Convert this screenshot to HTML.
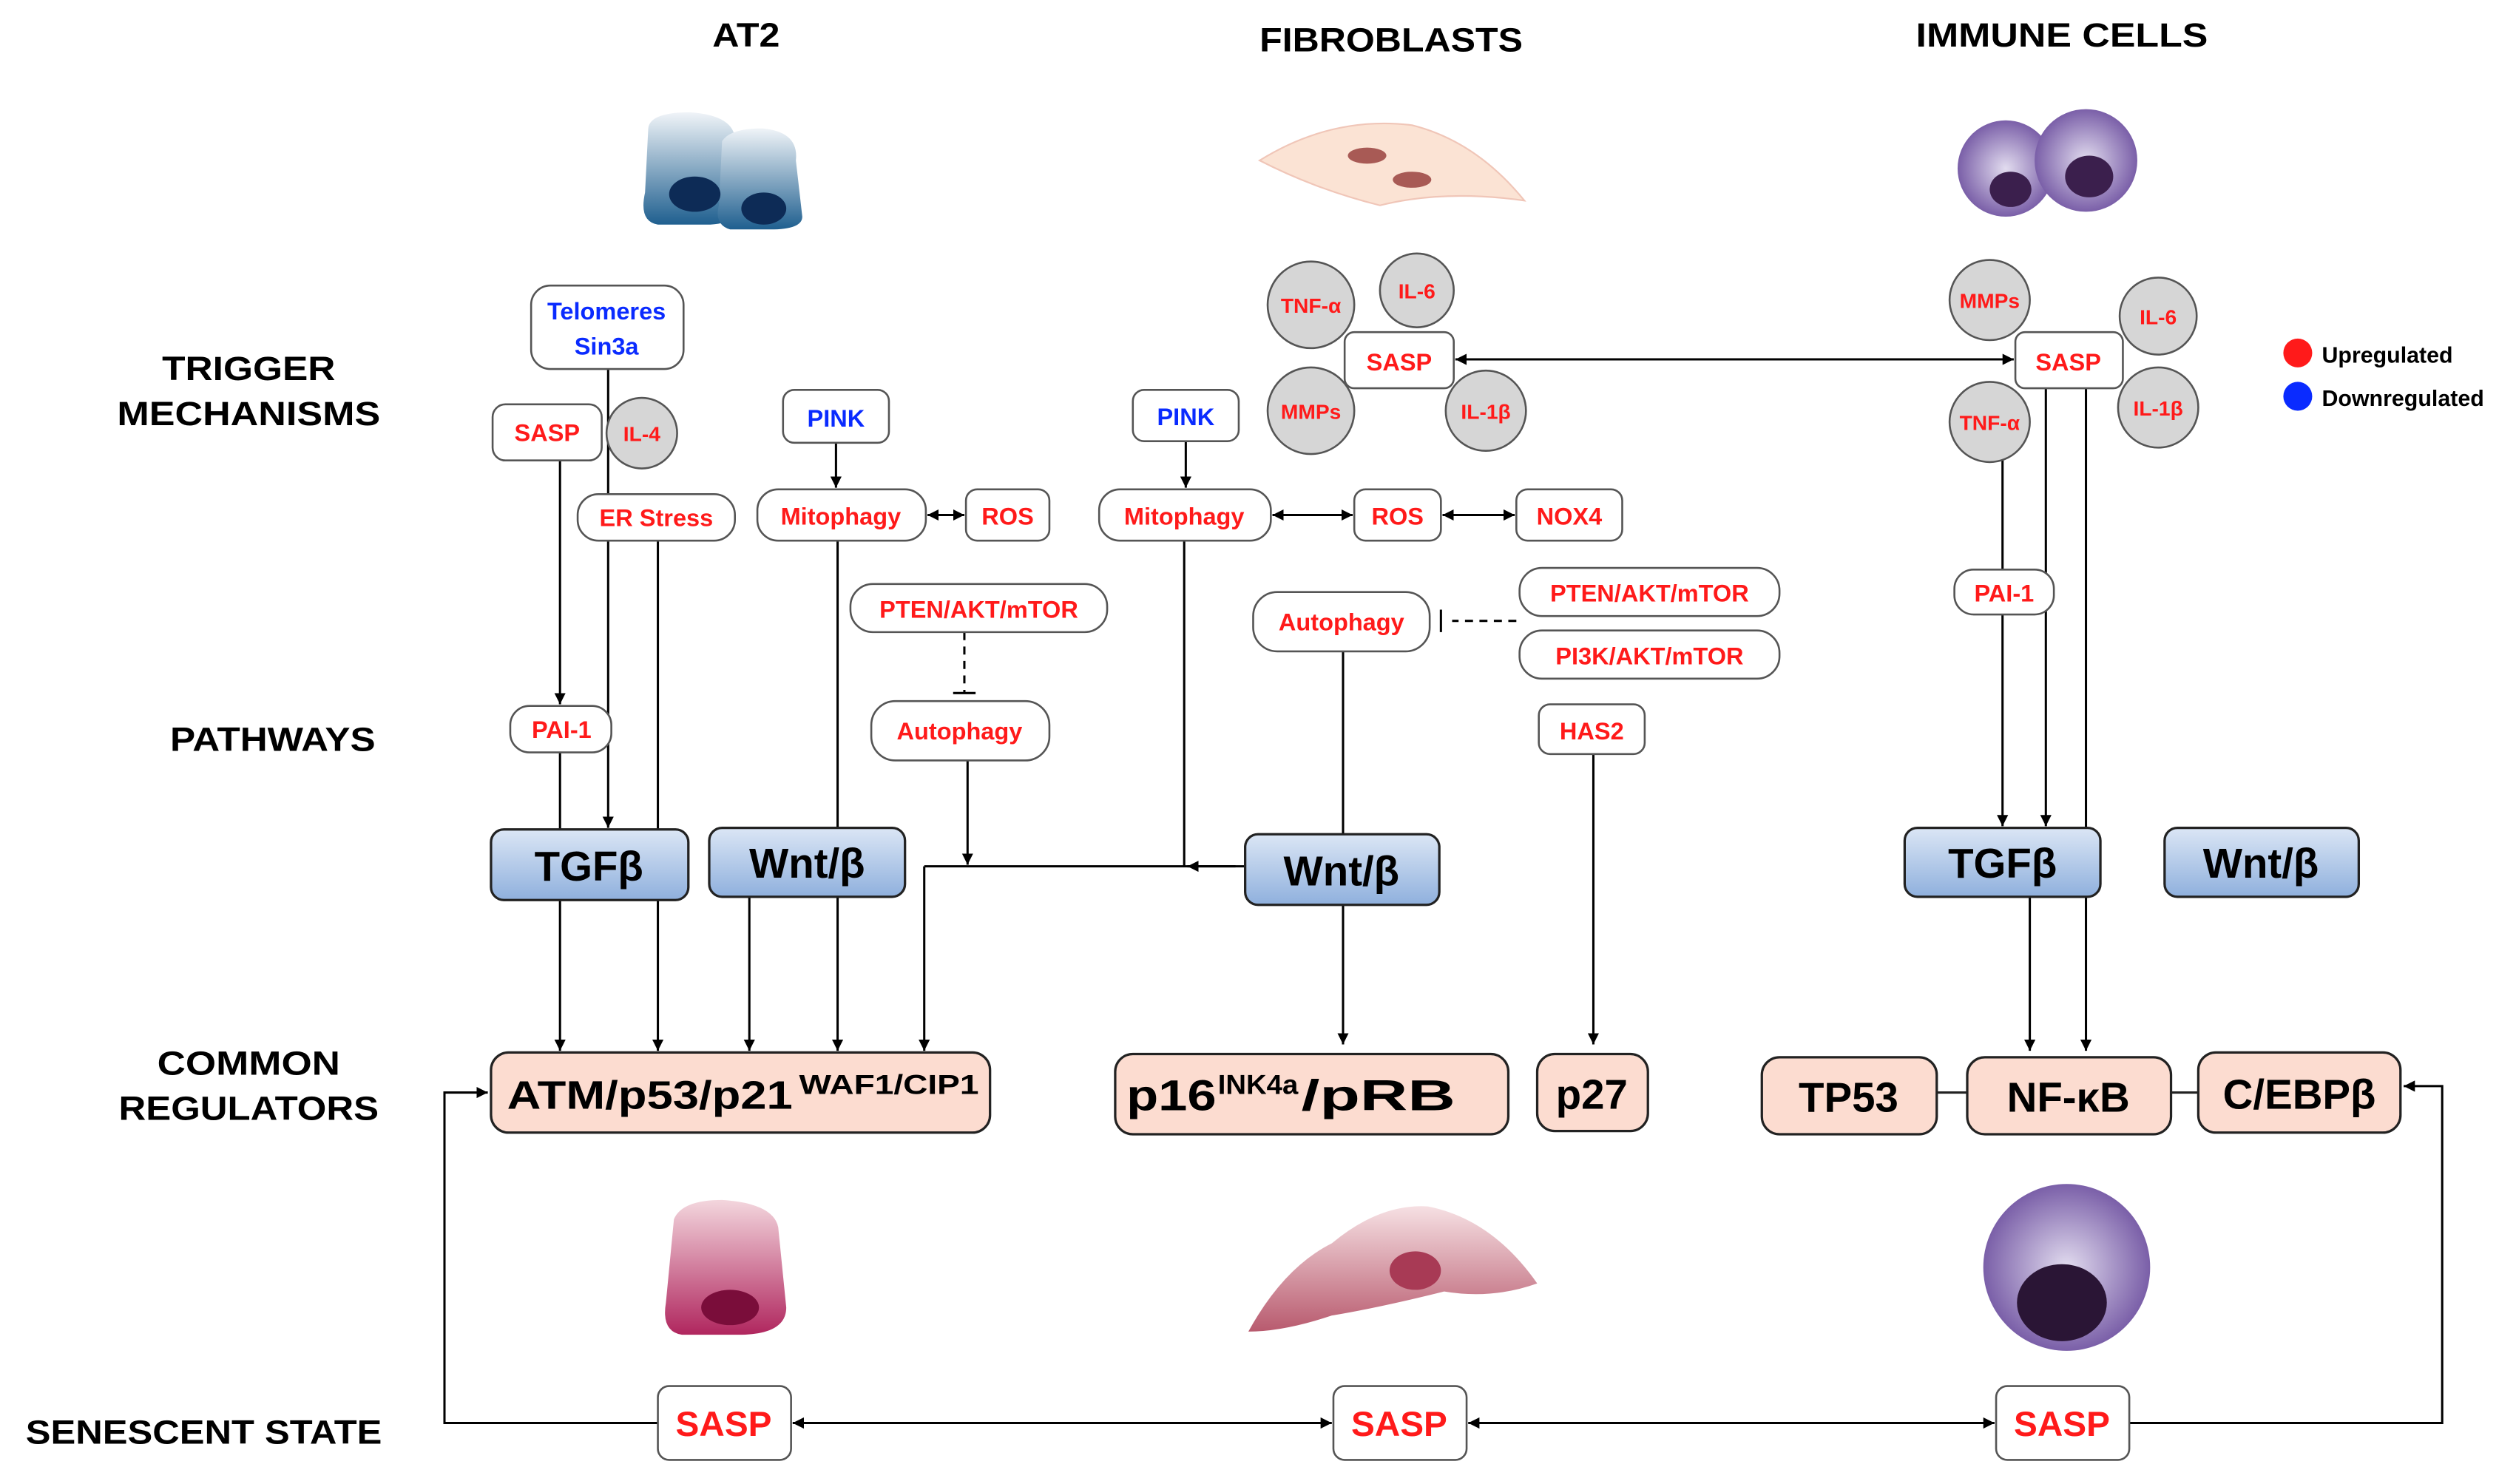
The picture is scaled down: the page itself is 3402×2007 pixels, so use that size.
<!DOCTYPE html>
<html><head><meta charset="utf-8"><style>
html,body{margin:0;padding:0;background:#fff}
svg{display:block}
text{font-family:"Liberation Sans",Arial,sans-serif;font-weight:bold}
</style></head><body>
<svg width="3402" height="2007" viewBox="0 0 1568 925" xmlns="http://www.w3.org/2000/svg">
<defs>
<marker id="a" viewBox="0 0 10 10" refX="10" refY="5" markerWidth="5" markerHeight="5" orient="auto-start-reverse"><path d="M0,0L10,5L0,10z" fill="#000"/></marker>
<linearGradient id="bl" x1="0" y1="0" x2="0" y2="1"><stop offset="0" stop-color="#dbe6f5"/><stop offset="1" stop-color="#8fb0dd"/></linearGradient>
<linearGradient id="at" x1="0" y1="0" x2="0" y2="1"><stop offset="0" stop-color="#f0f4f8"/><stop offset="1" stop-color="#1f5f8f"/></linearGradient>
<linearGradient id="pk" x1="0" y1="0" x2="0" y2="1"><stop offset="0" stop-color="#f3d6dd"/><stop offset="1" stop-color="#b0265e"/></linearGradient>
<linearGradient id="fb" x1="0" y1="0" x2="0" y2="1"><stop offset="0" stop-color="#f6e0e3"/><stop offset="1" stop-color="#b85a6e"/></linearGradient>
<radialGradient id="im"><stop offset="0" stop-color="#e2dcef"/><stop offset="1" stop-color="#7a5fa8"/></radialGradient>
</defs>
<style>
.t{fill:#000;font-size:21px;text-anchor:middle}
.r{fill:#ff1a1a;font-size:15px;text-anchor:middle}
.b{fill:#0a2bff;font-size:15px;text-anchor:middle}
.n{fill:#fff;stroke:#555;stroke-width:1.2}
.c{fill:#d6d6d6;stroke:#555;stroke-width:1.2}
.g{fill:url(#bl);stroke:#222;stroke-width:1.5}
.p{fill:#fcdcd0;stroke:#222;stroke-width:1.5}
.l{stroke:#000;stroke-width:1.4;fill:none}
.k{fill:#000;font-size:26px;text-anchor:middle}
</style>
<!-- headers -->
<text class="t" x="465" y="29" textLength="42" lengthAdjust="spacingAndGlyphs">AT2</text>
<text class="t" x="867" y="32" textLength="164" lengthAdjust="spacingAndGlyphs">FIBROBLASTS</text>
<text class="t" x="1285" y="29" textLength="182" lengthAdjust="spacingAndGlyphs">IMMUNE CELLS</text>
<text class="t" x="155" y="237" textLength="108" lengthAdjust="spacingAndGlyphs">TRIGGER</text>
<text class="t" x="155" y="265" textLength="164" lengthAdjust="spacingAndGlyphs">MECHANISMS</text>
<text class="t" x="170" y="468" textLength="128" lengthAdjust="spacingAndGlyphs">PATHWAYS</text>
<text class="t" x="155" y="670" textLength="114" lengthAdjust="spacingAndGlyphs">COMMON</text>
<text class="t" x="155" y="698" textLength="162" lengthAdjust="spacingAndGlyphs">REGULATORS</text>
<text class="t" x="127" y="900" textLength="222" lengthAdjust="spacingAndGlyphs">SENESCENT STATE</text>
<!-- cell images -->
<path d="M404,80 Q405,70 430,70 Q460,72 458,90 L462,120 Q465,140 440,140 L410,140 Q398,138 402,120z" fill="url(#at)"/>
<path d="M450,88 Q455,80 475,80 Q498,82 496,100 L500,135 Q500,143 480,143 L455,143 Q445,140 448,128z" fill="url(#at)"/>
<ellipse cx="433" cy="121" rx="16" ry="11" fill="#0d2b56"/><ellipse cx="476" cy="130" rx="14" ry="10" fill="#0d2b56"/>
<path d="M785,100 Q830,72 880,78 Q920,88 950,125 Q900,118 860,128 Q820,118 785,100z" fill="#fbe3d4" stroke="#f0c6b8"/>
<ellipse cx="852" cy="97" rx="12" ry="5" fill="#a85a55"/><ellipse cx="880" cy="112" rx="12" ry="5" fill="#a85a55"/>
<circle cx="1250" cy="105" r="30" fill="url(#im)"/><circle cx="1300" cy="100" r="32" fill="url(#im)"/>
<ellipse cx="1253" cy="118" rx="13" ry="11" fill="#3b1f4d"/><ellipse cx="1302" cy="110" rx="15" ry="13" fill="#3b1f4d"/>
<path d="M420,760 Q425,748 450,748 Q482,750 485,765 L490,815 Q490,832 460,832 L425,832 Q412,830 415,812z" fill="url(#pk)"/>
<ellipse cx="455" cy="815" rx="18" ry="11" fill="#7a0d3a"/>
<path d="M778,830 Q800,790 830,775 Q860,750 890,752 Q930,760 958,800 Q930,810 900,805 Q860,815 830,820 Q800,830 778,830z" fill="url(#fb)"/>
<ellipse cx="882" cy="792" rx="16" ry="12" fill="#a83a55"/>
<circle cx="1288" cy="790" r="52" fill="url(#im)"/>
<ellipse cx="1285" cy="812" rx="28" ry="24" fill="#2a1535"/>
<!-- legend -->
<circle cx="1432" cy="220" r="9" fill="#ff1a1a"/><text x="1447" y="226" style="font-size:14px">Upregulated</text>
<circle cx="1432" cy="247" r="9" fill="#0a2bff"/><text x="1447" y="253" style="font-size:14px">Downregulated</text>
<!-- AT2 connectors -->
<line class="l" x1="379" y1="230" x2="379" y2="516" marker-end="url(#a)"/>
<line class="l" x1="349" y1="287" x2="349" y2="439" marker-end="url(#a)"/>
<line class="l" x1="349" y1="469" x2="349" y2="517"/>
<line class="l" x1="410" y1="337" x2="410" y2="655" marker-end="url(#a)"/>
<line class="l" x1="349" y1="561" x2="349" y2="655" marker-end="url(#a)"/>
<line class="l" x1="467" y1="559" x2="467" y2="655" marker-end="url(#a)"/>
<line class="l" x1="522" y1="337" x2="522" y2="516"/>
<line class="l" x1="522" y1="559" x2="522" y2="655" marker-end="url(#a)"/>
<line class="l" x1="521" y1="276" x2="521" y2="304" marker-end="url(#a)"/>
<line class="l" x1="578" y1="321" x2="601" y2="321" marker-start="url(#a)" marker-end="url(#a)"/>
<line class="l" x1="601" y1="394" x2="601" y2="432" stroke-dasharray="5,4"/><line class="l" x1="594" y1="432" x2="608" y2="432"/>
<line class="l" x1="603" y1="474" x2="603" y2="539" marker-end="url(#a)"/>
<line class="l" x1="576" y1="540" x2="776" y2="540"/>
<line class="l" x1="770" y1="540" x2="740" y2="540" marker-end="url(#a)"/>
<line class="l" x1="576" y1="540" x2="576" y2="655" marker-end="url(#a)"/>
<line class="l" x1="738" y1="337" x2="738" y2="540"/>
<!-- fibro -->
<line class="l" x1="739" y1="275" x2="739" y2="304" marker-end="url(#a)"/>
<line class="l" x1="793" y1="321" x2="843" y2="321" marker-start="url(#a)" marker-end="url(#a)"/>
<line class="l" x1="899" y1="321" x2="944" y2="321" marker-start="url(#a)" marker-end="url(#a)"/>
<line class="l" x1="945" y1="387" x2="905" y2="387" stroke-dasharray="5,4"/><line class="l" x1="898" y1="380" x2="898" y2="394" stroke-width="2"/>
<line class="l" x1="837" y1="406" x2="837" y2="520"/>
<line class="l" x1="837" y1="564" x2="837" y2="651" marker-end="url(#a)"/>
<line class="l" x1="993" y1="470" x2="993" y2="651" marker-end="url(#a)"/>
<line class="l" x1="907" y1="224" x2="1255" y2="224" marker-start="url(#a)" marker-end="url(#a)"/>
<!-- immune -->
<line class="l" x1="1248" y1="242" x2="1248" y2="355"/>
<line class="l" x1="1248" y1="383" x2="1248" y2="515" marker-end="url(#a)"/>
<line class="l" x1="1275" y1="242" x2="1275" y2="515" marker-end="url(#a)"/>
<line class="l" x1="1300" y1="242" x2="1300" y2="655" marker-end="url(#a)"/>
<line class="l" x1="1265" y1="559" x2="1265" y2="655" marker-end="url(#a)"/>
<line x1="1207" y1="681" x2="1226" y2="681" stroke="#222" stroke-width="1.4"/>
<line x1="1353" y1="681" x2="1370" y2="681" stroke="#222" stroke-width="1.4"/>
<!-- bottom loop -->
<polyline class="l" points="410,887 277,887 277,681 304,681" marker-end="url(#a)"/>
<polyline class="l" points="1327,887 1522,887 1522,677 1498,677" marker-end="url(#a)"/>
<line class="l" x1="494" y1="887" x2="830" y2="887" marker-start="url(#a)" marker-end="url(#a)"/>
<line class="l" x1="915" y1="887" x2="1243" y2="887" marker-start="url(#a)" marker-end="url(#a)"/>
<!-- AT2 nodes -->
<rect class="n" x="331" y="178" width="95" height="52" rx="12"/><text class="b" x="378" y="199">Telomeres</text><text class="b" x="378" y="221">Sin3a</text>
<rect class="n" x="307" y="252" width="68" height="35" rx="8"/><text class="r" x="341" y="275">SASP</text>
<circle class="c" cx="400" cy="270" r="22"/><text class="r" x="400" y="275" style="font-size:13px">IL-4</text>
<rect class="n" x="360" y="308" width="98" height="29" rx="13"/><text class="r" x="409" y="328">ER Stress</text>
<rect class="n" x="488" y="243" width="66" height="33" rx="7"/><text class="b" x="521" y="266">PINK</text>
<rect class="n" x="472" y="305" width="105" height="32" rx="13"/><text class="r" x="524" y="327">Mitophagy</text>
<rect class="n" x="602" y="305" width="52" height="32" rx="7"/><text class="r" x="628" y="327">ROS</text>
<rect class="n" x="530" y="364" width="160" height="30" rx="14"/><text class="r" x="610" y="385">PTEN/AKT/mTOR</text>
<rect class="n" x="543" y="437" width="111" height="37" rx="15"/><text class="r" x="598" y="461">Autophagy</text>
<rect class="n" x="318" y="440" width="63" height="29" rx="12"/><text class="r" x="350" y="460">PAI-1</text>
<rect class="g" x="306" y="517" width="123" height="44" rx="8"/><text class="k" x="367" y="549">TGFβ</text>
<rect class="g" x="442" y="516" width="122" height="43" rx="8"/><text class="k" x="503" y="547">Wnt/β</text>
<rect class="p" x="306" y="656" width="311" height="50" rx="11"/>
<text x="316" y="691" style="font-size:25px;fill:#000" textLength="178" lengthAdjust="spacingAndGlyphs">ATM/p53/p21</text>
<text x="498" y="682" style="font-size:17px;fill:#000" textLength="112" lengthAdjust="spacingAndGlyphs">WAF1/CIP1</text>
<!-- fibro nodes -->
<rect class="n" x="706" y="243" width="66" height="32" rx="7"/><text class="b" x="739" y="265">PINK</text>
<rect class="n" x="685" y="305" width="107" height="32" rx="13"/><text class="r" x="738" y="327">Mitophagy</text>
<rect class="n" x="844" y="305" width="54" height="32" rx="7"/><text class="r" x="871" y="327">ROS</text>
<rect class="n" x="945" y="305" width="66" height="32" rx="7"/><text class="r" x="978" y="327">NOX4</text>
<rect class="n" x="781" y="369" width="110" height="37" rx="15"/><text class="r" x="836" y="393">Autophagy</text>
<rect class="n" x="947" y="354" width="162" height="30" rx="14"/><text class="r" x="1028" y="375">PTEN/AKT/mTOR</text>
<rect class="n" x="947" y="393" width="162" height="30" rx="14"/><text class="r" x="1028" y="414">PI3K/AKT/mTOR</text>
<rect class="n" x="959" y="439" width="66" height="31" rx="7"/><text class="r" x="992" y="461">HAS2</text>
<circle class="c" cx="817" cy="190" r="27"/><text class="r" x="817" y="195" style="font-size:13px">TNF-α</text>
<circle class="c" cx="883" cy="181" r="23"/><text class="r" x="883" y="186" style="font-size:13px">IL-6</text>
<circle class="c" cx="817" cy="256" r="27"/><text class="r" x="817" y="261" style="font-size:13px">MMPs</text>
<circle class="c" cx="926" cy="256" r="25"/><text class="r" x="926" y="261" style="font-size:13px">IL-1β</text>
<rect class="n" x="838" y="207" width="68" height="35" rx="6"/><text class="r" x="872" y="231">SASP</text>
<rect class="g" x="776" y="520" width="121" height="44" rx="8"/><text class="k" x="836" y="552">Wnt/β</text>
<rect class="p" x="695" y="657" width="245" height="50" rx="11"/>
<text x="702" y="692" style="font-size:27px;fill:#000" textLength="56" lengthAdjust="spacingAndGlyphs">p16</text>
<text x="759" y="682" style="font-size:17px;fill:#000" textLength="50" lengthAdjust="spacingAndGlyphs">INK4a</text>
<text x="811" y="692" style="font-size:27px;fill:#000" textLength="96" lengthAdjust="spacingAndGlyphs">/pRB</text>
<rect class="p" x="958" y="657" width="69" height="48" rx="11"/><text class="k" x="992" y="691">p27</text>
<!-- immune nodes -->
<circle class="c" cx="1240" cy="187" r="25"/><text class="r" x="1240" y="192" style="font-size:13px">MMPs</text>
<circle class="c" cx="1345" cy="197" r="24"/><text class="r" x="1345" y="202" style="font-size:13px">IL-6</text>
<circle class="c" cx="1240" cy="263" r="25"/><text class="r" x="1240" y="268" style="font-size:13px">TNF-α</text>
<circle class="c" cx="1345" cy="254" r="25"/><text class="r" x="1345" y="259" style="font-size:13px">IL-1β</text>
<rect class="n" x="1256" y="207" width="67" height="35" rx="6"/><text class="r" x="1289" y="231">SASP</text>
<rect class="n" x="1218" y="355" width="62" height="28" rx="12"/><text class="r" x="1249" y="375">PAI-1</text>
<rect class="g" x="1187" y="516" width="122" height="43" rx="8"/><text class="k" x="1248" y="547">TGFβ</text>
<rect class="g" x="1349" y="516" width="121" height="43" rx="8"/><text class="k" x="1409" y="547">Wnt/β</text>
<rect class="p" x="1098" y="659" width="109" height="48" rx="11"/><text class="k" x="1152" y="693">TP53</text>
<rect class="p" x="1226" y="659" width="127" height="48" rx="11"/><text class="k" x="1289" y="693">NF-κB</text>
<rect class="p" x="1370" y="656" width="126" height="50" rx="11"/><text class="k" x="1433" y="691">C/EBPβ</text>
<!-- bottom SASP -->
<rect class="n" x="410" y="864" width="83" height="46" rx="7"/><text class="r" x="451" y="895" style="font-size:22px">SASP</text>
<rect class="n" x="831" y="864" width="83" height="46" rx="7"/><text class="r" x="872" y="895" style="font-size:22px">SASP</text>
<rect class="n" x="1244" y="864" width="83" height="46" rx="7"/><text class="r" x="1285" y="895" style="font-size:22px">SASP</text>
</svg>
</body></html>
